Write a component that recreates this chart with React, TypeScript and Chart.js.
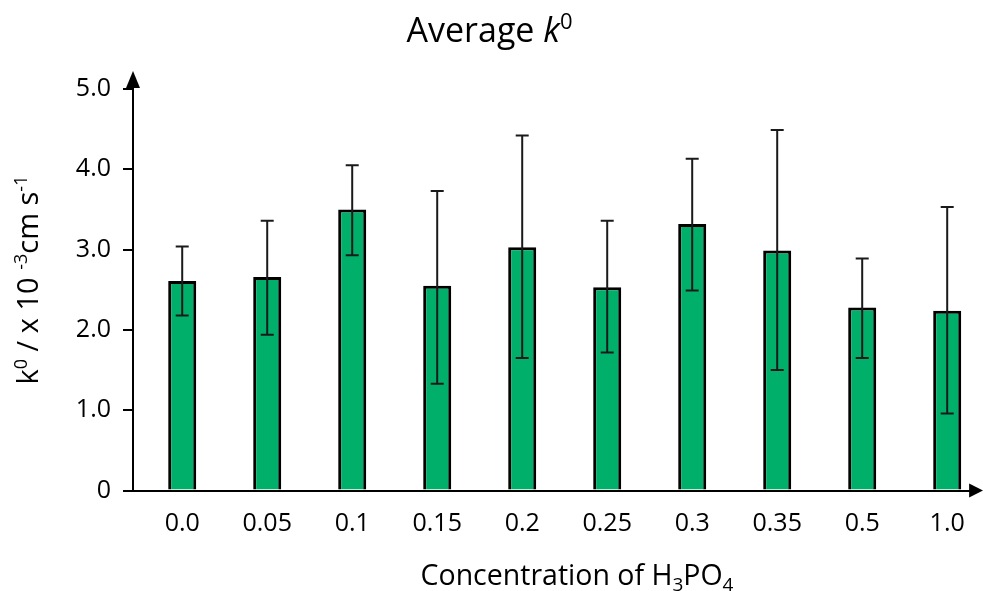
import { useEffect, useRef } from 'react';
import { Chart, registerables } from 'chart.js';

Chart.register(...registerables);

const categories = ['0.0', '0.05', '0.1', '0.15', '0.2', '0.25', '0.3', '0.35', '0.5', '1.0'];
const means = [2.61, 2.66, 3.5, 2.55, 3.03, 2.53, 3.32, 2.99, 2.28, 2.24];
const errorUpper = [3.04, 3.36, 4.05, 3.73, 4.42, 3.36, 4.13, 4.49, 2.89, 3.53];
const errorLower = [2.18, 1.94, 2.93, 1.33, 1.65, 1.72, 2.49, 1.5, 1.65, 0.96];
const yTickValues = [0, 1, 2, 3, 4, 5];

const FONT = '"Open Sans"';

type Seg = { t: string; size: number; italic?: boolean; shift?: number };

function drawRich(ctx: CanvasRenderingContext2D, segs: Seg[], cx: number, baseline: number) {
  const widths: number[] = [];
  let total = 0;
  for (const s of segs) {
    ctx.font = `${s.italic ? 'italic ' : ''}${s.size}px ${FONT}`;
    const w = ctx.measureText(s.t).width;
    widths.push(w);
    total += w;
  }
  let x = cx - total / 2;
  ctx.textAlign = 'left';
  ctx.textBaseline = 'alphabetic';
  segs.forEach((s, i) => {
    ctx.font = `${s.italic ? 'italic ' : ''}${s.size}px ${FONT}`;
    ctx.fillText(s.t, x, baseline - (s.shift || 0));
    x += widths[i];
  });
}

const textPlugin = {
  id: 'richText',
  afterDraw(chart: any) {
    const ctx: CanvasRenderingContext2D = chart.ctx;
    ctx.save();
    ctx.fillStyle = '#000';
    drawRich(ctx, [
      { t: 'Average ', size: 34 },
      { t: 'k', size: 34, italic: true },
      { t: '0', size: 22, shift: 13 },
    ], 489.5, 42);
    drawRich(ctx, [
      { t: 'Concentration of H', size: 28.5 },
      { t: '3', size: 19, shift: -6 },
      { t: 'PO', size: 28.5 },
      { t: '4', size: 19, shift: -6 },
    ], 577, 585);
    ctx.save();
    ctx.translate(38, 280);
    ctx.rotate(-Math.PI / 2);
    drawRich(ctx, [
      { t: 'k', size: 29 },
      { t: '0', size: 18, shift: 11 },
      { t: ' / x 10 ', size: 29 },
      { t: '-3', size: 18, shift: 11 },
      { t: 'cm s', size: 29 },
      { t: '-1', size: 18, shift: 11 },
    ], 0, 0);
    ctx.restore();
    ctx.restore();
  },
};

const errorBarPlugin = {
  id: 'errorBars',
  afterDatasetsDraw(chart: any) {
    const ctx: CanvasRenderingContext2D = chart.ctx;
    const yScale = chart.scales.y;
    const meta = chart.getDatasetMeta(0);
    ctx.save();
    ctx.strokeStyle = '#1a1a1a';
    ctx.lineWidth = 2;
    meta.data.forEach((bar: any, i: number) => {
      const x = bar.x;
      const yt = yScale.getPixelForValue(errorUpper[i]);
      const yb = yScale.getPixelForValue(errorLower[i]);
      ctx.beginPath();
      ctx.moveTo(x, yt);
      ctx.lineTo(x, yb);
      ctx.moveTo(x - 6.5, yt);
      ctx.lineTo(x + 6.5, yt);
      ctx.moveTo(x - 6.5, yb);
      ctx.lineTo(x + 6.5, yb);
      ctx.stroke();
    });
    ctx.restore();
  },
};

const arrowPlugin = {
  id: 'axisArrows',
  afterDraw(chart: any) {
    const ctx: CanvasRenderingContext2D = chart.ctx;
    const { left, top, right, bottom } = chart.chartArea;
    ctx.save();
    ctx.fillStyle = '#000';
    ctx.beginPath();
    ctx.moveTo(left - 7, top - 1);
    ctx.lineTo(left + 7, top - 1);
    ctx.lineTo(left, top - 18);
    ctx.closePath();
    ctx.fill();
    ctx.beginPath();
    ctx.moveTo(right - 1, bottom - 7);
    ctx.lineTo(right - 1, bottom + 7);
    ctx.lineTo(right + 13, bottom);
    ctx.closePath();
    ctx.fill();
    ctx.restore();
  },
};

export default function App() {
  const ref = useRef<HTMLCanvasElement | null>(null);

  useEffect(() => {
    document.body.style.margin = '0';
    if (!ref.current) return;
    const chart = new Chart(ref.current, {
      type: 'bar',
      data: {
        datasets: [
          {
            data: means.map((y, i) => ({ x: i, y })),
            backgroundColor: '#00B06A',
            borderColor: '#000',
            borderWidth: 3,
            borderSkipped: 'bottom',
            barPercentage: 0.33,
            categoryPercentage: 1,
          } as any,
        ],
      },
      options: {
        animation: false,
        responsive: true,
        maintainAspectRatio: false,
        layout: { padding: { top: 89, right: 8, left: 0, bottom: 0 } },
        plugins: {
          legend: { display: false },
          tooltip: { enabled: false },
          title: { display: false },
        },
        scales: {
          x: {
            type: 'linear',
            offset: false,
            min: -0.579,
            max: 9.27,
            afterBuildTicks: (scale: any) => {
              scale.ticks = categories.map((_, i) => ({ value: i }));
            },
            afterFit: (scale: any) => {
              scale.height = 591 - 490.5;
            },
            ticks: {
              autoSkip: false,
              maxRotation: 0,
              padding: 18,
              color: '#000',
              font: { family: FONT, size: 25 },
              callback: (v: any) => categories[v as number] ?? '',
            },
            grid: { display: false, drawTicks: false, offset: false },
            border: { display: true, color: '#000', width: 2 },
          },
          y: {
            type: 'linear',
            min: 0,
            max: 5,
            afterBuildTicks: (scale: any) => {
              scale.ticks = yTickValues.map((v) => ({ value: v }));
            },
            afterFit: (scale: any) => {
              scale.width = 133;
            },
            ticks: {
              padding: 12,
              color: '#000',
              font: { family: FONT, size: 25 },
              callback: (v: any) => (v === 0 ? '0' : Number(v).toFixed(1)),
            },
            grid: {
              drawOnChartArea: false,
              drawTicks: true,
              tickLength: 10,
              color: '#000',
              lineWidth: 2,
            },
            border: { display: true, color: '#000', width: 2 },
          },
        },
      } as any,
      plugins: [errorBarPlugin, arrowPlugin, textPlugin],
    });
    return () => chart.destroy();
  }, []);

  return (
    <div style={{ width: 983, height: 591, position: 'relative' }}>
      <canvas ref={ref} />
    </div>
  );
}
